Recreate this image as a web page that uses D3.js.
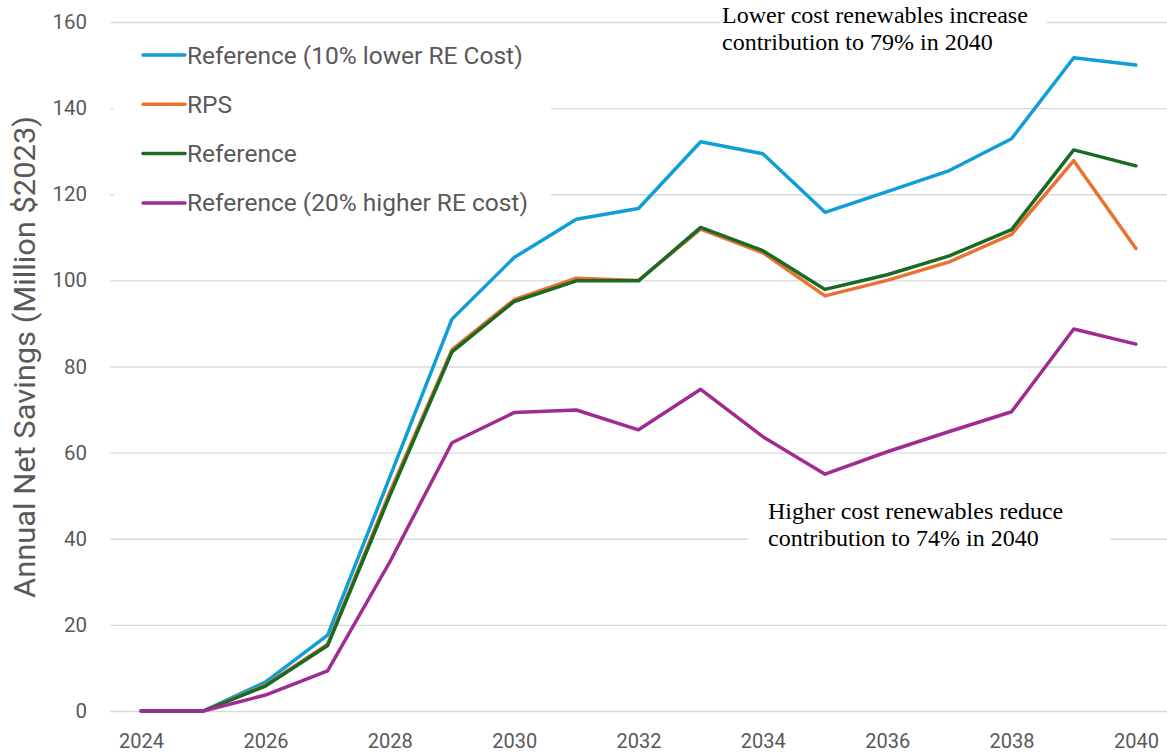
<!DOCTYPE html>
<html>
<head>
<meta charset="utf-8">
<script src="https://cdn.jsdelivr.net/npm/d3@7"></script>
<style>
    body { margin: 0; background: #fff; }
    svg { display: block; font-family: Roboto, 'Liberation Sans', sans-serif; }
    .note { font-family: 'Liberation Serif', 'Times New Roman', serif; fill: #000; }
</style>
</head>
<body>
<svg id="chart" width="1167" height="752"></svg>
<script>
/* Data */

const years = d3.range(2024, 2041);
const xTickYears = [2024, 2026, 2028, 2030, 2032, 2034, 2036, 2038, 2040];
const yTicks = [0, 20, 40, 60, 80, 100, 120, 140, 160];

const seriesNames = [
    'Reference (10% lower RE Cost)',
    'RPS',
    'Reference',
    'Reference (20% higher RE cost)'
];
const seriesColors = ['#0F9ED5', '#E97132', '#196B24', '#A02B93'];

const lowerCost = [0, 0, 6.7, 17.6, 54.3, 91.0, 105.3, 114.2, 116.7, 132.2, 129.4, 115.8, 120.6, 125.5, 132.9, 151.7, 150.0];
const rps = [0, 0, 6.0, 15.5, 50.8, 83.9, 95.5, 100.5, 100.0, 111.9, 106.4, 96.4, 100.0, 104.3, 110.7, 127.8, 107.4];
const reference = [0, 0, 5.8, 15.2, 50.0, 83.4, 95.1, 99.9, 99.9, 112.3, 106.9, 97.9, 101.3, 105.7, 111.8, 130.3, 126.6];
const higherCost = [0, 0, 3.7, 9.3, 34.6, 62.3, 69.3, 69.9, 65.3, 74.7, 63.7, 55.0, 60.2, 64.9, 69.5, 88.7, 85.2];

const seriesValues = [lowerCost, rps, reference, higherCost];

const noteTop = ['Lower cost renewables increase', 'contribution to 79% in 2040'];
const noteBottom = ['Higher cost renewables reduce', 'contribution to 74% in 2040'];

/* Layout */

const svg = d3.select('#chart');
const plotLeft = 110, plotRight = 1167, plotTop = 22, plotBottom = 711;

const x = d3.scalePoint()
    .domain(years)
    .range([plotLeft, plotRight])
    .padding(0.5);

const y = d3.scaleLinear()
    .domain([0, 160])
    .range([plotBottom, plotTop]);

/* Grid */

svg.append('g')
    .attr('transform', `translate(${plotLeft},0)`)
    .call(d3.axisLeft(y).tickValues(yTicks).tickSize(-(plotRight - plotLeft)).tickFormat(''))
    .call(g => g.select('.domain').remove())
    .call(g => g.selectAll('line').attr('stroke', '#D9D9D9').attr('stroke-width', 1.3));

/* Axes */

svg.append('g')
    .attr('transform', `translate(${plotLeft},0)`)
    .call(d3.axisLeft(y).tickValues(yTicks).tickSize(0).tickPadding(23))
    .call(g => g.select('.domain').remove())
    .call(g => g.selectAll('text')
        .attr('fill', '#595959')
        .style('font-size', '20.5px')
        .style('font-family', 'Roboto, sans-serif'));

svg.append('g')
    .attr('transform', `translate(0,${plotBottom})`)
    .call(d3.axisBottom(x).tickValues(xTickYears).tickSize(0).tickPadding(23))
    .call(g => g.select('.domain').remove())
    .call(g => g.selectAll('text')
        .attr('fill', '#595959')
        .style('font-size', '20px')
        .style('font-family', 'Roboto, sans-serif'));

svg.append('text')
    .attr('transform', 'translate(35,357) rotate(-90)')
    .attr('text-anchor', 'middle')
    .attr('fill', '#595959')
    .attr('textLength', 482)
    .attr('lengthAdjust', 'spacingAndGlyphs')
    .style('font-size', '29px')
    .text('Annual Net Savings (Million $2023)');

/* Notes (white boxes hide the grid under them) */

const addNote = (lines, tx, ty, box) => {
    svg.append('rect')
        .attr('x', box[0]).attr('y', box[1])
        .attr('width', box[2]).attr('height', box[3])
        .attr('fill', '#fff');
    const t = svg.append('text')
        .attr('class', 'note')
        .style('font-size', '24px');
    lines.forEach((line, i) => {
        t.append('tspan').attr('x', tx).attr('y', ty + i * 27).text(line);
    });
};

addNote(noteTop, 722, 23, [720, 0, 327, 58]);
addNote(noteBottom, 768, 519, [748, 497, 362, 56]);

/* Lines */

const line = d3.line()
    .x((d, i) => x(years[i]))
    .y(d => y(d));

svg.append('g')
    .selectAll('path')
    .data(seriesValues)
    .join('path')
    .attr('d', line)
    .attr('fill', 'none')
    .attr('stroke', (d, i) => seriesColors[i])
    .attr('stroke-width', 3.5)
    .attr('stroke-linejoin', 'round')
    .attr('stroke-linecap', 'round');

/* Legend */

svg.append('rect')
    .attr('x', 114).attr('y', 32)
    .attr('width', 437).attr('height', 192)
    .attr('fill', '#fff');

const legend = svg.append('g')
    .selectAll('g')
    .data(seriesNames)
    .join('g')
    .attr('transform', (d, i) => `translate(143,${55 + i * 49.3})`);

legend.append('line')
    .attr('x1', 0).attr('x2', 42)
    .attr('stroke', (d, i) => seriesColors[i])
    .attr('stroke-width', 3.5)
    .attr('stroke-linecap', 'round');

legend.append('text')
    .attr('x', 44)
    .attr('dy', '0.35em')
    .attr('fill', '#595959')
    .style('font-size', '24.5px')
    .text(d => d);
</script>
</body>
</html>
